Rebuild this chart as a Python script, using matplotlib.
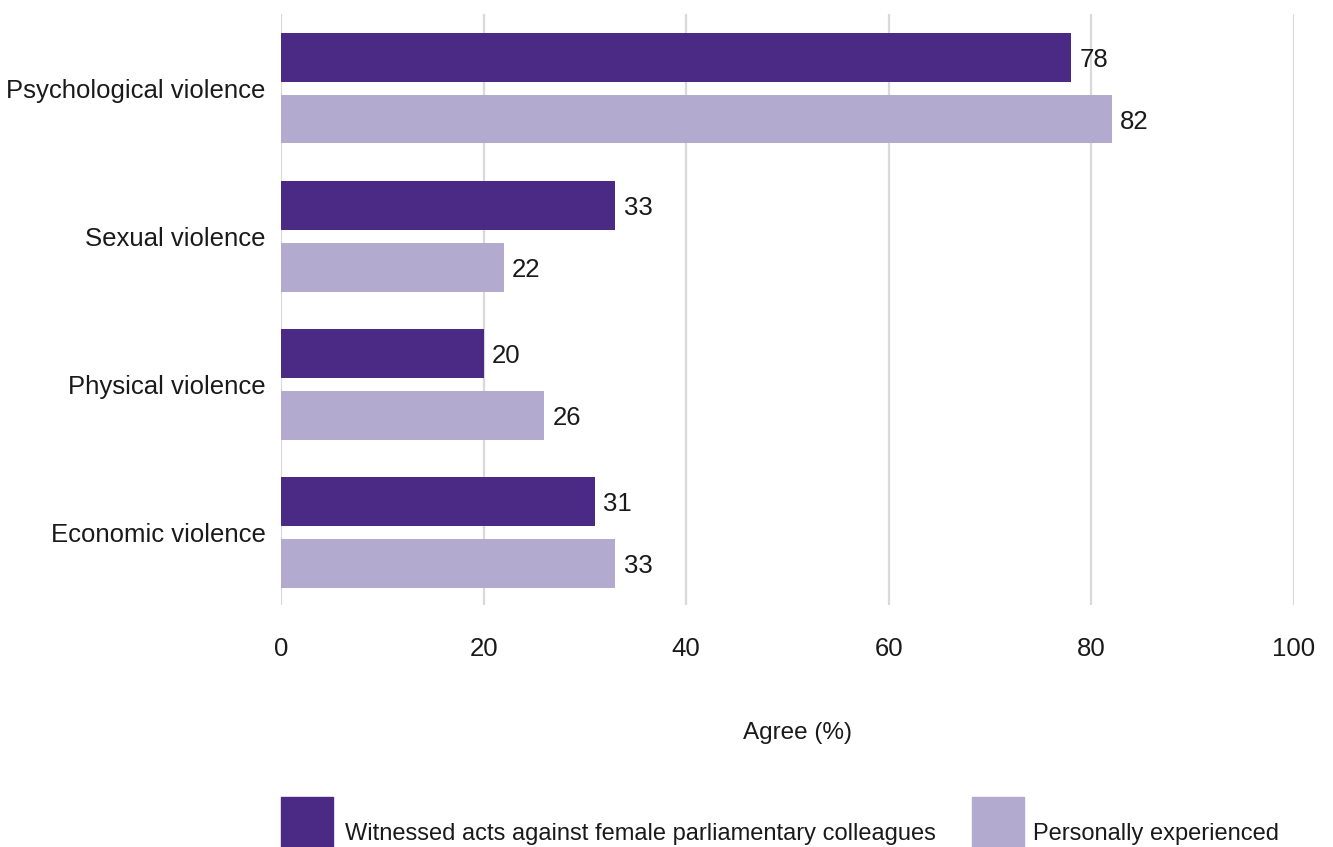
import matplotlib.pyplot as plt
from matplotlib.patches import Rectangle
import numpy as np

# ----- Data -----
categories = ['Psychological violence', 'Sexual violence',
              'Physical violence', 'Economic violence']
witnessed = [78, 33, 20, 31]
experienced = [82, 22, 26, 33]
series_names = ['Witnessed acts against female parliamentary colleagues',
                'Personally experienced']

dark = '#4a2a85'
light = '#b3aacf'
text_col = '#1a1a1a'
fs = 18.5

plt.rcParams['font.family'] = ['Liberation Sans', 'DejaVu Sans']
plt.rcParams['font.size'] = fs

fig = plt.figure(figsize=(13.33, 8.47), dpi=100)
ax = fig.add_axes([0.2108, 0.2857, 0.7599, 0.6978])

y = np.arange(len(categories))
bar_h = 0.33
off = 0.209

bars1 = ax.barh(y - off, witnessed, height=bar_h, color=dark, zorder=3)
bars2 = ax.barh(y + off, experienced, height=bar_h, color=light, zorder=3)

# value labels next to bar ends
for bars, vals in ((bars1, witnessed), (bars2, experienced)):
    for b, v in zip(bars, vals):
        ax.annotate(f'{v}', (v, b.get_y() + b.get_height() / 2),
                    xytext=(6, -2), textcoords='offset points',
                    ha='left', va='center', color=text_col, fontsize=fs)

ax.set_xlim(0, 100)
ax.set_ylim(3.49, -0.5)
ax.set_xticks(range(0, 101, 20))
ax.set_yticks(y)
ax.set_yticklabels(categories)
ax.tick_params(axis='both', length=0, colors=text_col, labelsize=fs)
ax.tick_params(axis='x', pad=23)
ax.tick_params(axis='y', pad=11)
ax.grid(axis='x', color='#d9d9d9', linewidth=1.6, zorder=0)
for s in ax.spines.values():
    s.set_visible(False)

ax.set_xlabel('Agree (%)', color=text_col, fontsize=17.5)
ax.xaxis.set_label_coords(0.510, -0.198)

# legend drawn at the bottom edge of the figure
W, H = 1333, 847
for x0, txt_x, col, name in ((281, 345, dark, series_names[0]),
                             (972, 1033, light, series_names[1])):
    fig.add_artist(Rectangle((x0 / W, 0), 52 / W, 50 / H,
                             transform=fig.transFigure, color=col))
    fig.text(txt_x / W, 1 - 834 / H, name, ha='left', va='center',
             color=text_col, fontsize=17)

fig.savefig('out.png', dpi=100)
